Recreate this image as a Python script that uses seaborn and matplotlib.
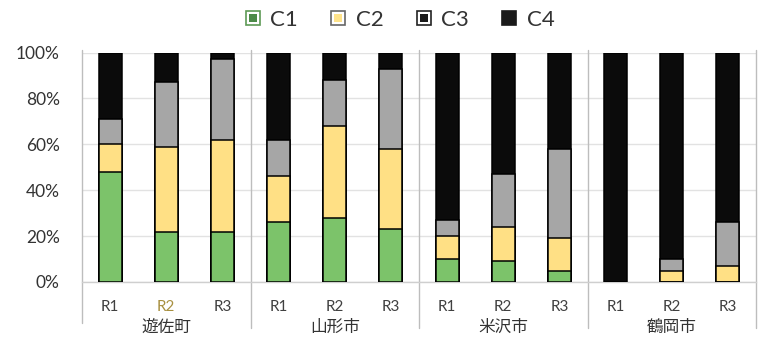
import matplotlib
matplotlib.use("Agg")
import matplotlib.pyplot as plt
from matplotlib.lines import Line2D
from matplotlib.legend_handler import HandlerTuple
import matplotlib.transforms as mtransforms
import numpy as np
import pandas as pd
import seaborn as sns

# ---- data (shares in %) ----
towns = ["遊佐町", "山形市", "米沢市", "鶴岡市"]
rounds = ["R1", "R2", "R3"]
c1 = [48, 22, 22,   26, 28, 23,   10, 9, 5,     0, 0, 0]
c2 = [12, 37, 40,   20, 40, 35,   10, 15, 14,   0, 5, 7]
c3 = [11, 28, 35,   16, 20, 35,   7, 23, 39,    0, 5, 19]
c4 = [29, 13, 3,    38, 12, 7,    73, 53, 42,   100, 90, 74]
series_names = ["C1", "C2", "C3", "C4"]
series_colors = ["#7CC36A", "#FFE085", "#A6A6A6", "#0B0B0B"]

keys = [f"{t}-{r}" for t in towns for r in rounds]
df = pd.DataFrame({"key": keys, "C1": c1, "C2": c2, "C3": c3, "C4": c4})
cols = series_names
for i, name in enumerate(cols):
    df["top_" + name] = df[cols[: i + 1]].sum(axis=1) / 100.0

sns.set_theme(style="white")
plt.rcParams["font.family"] = ["Lato", "Noto Sans CJK JP", "DejaVu Sans"]

fig = plt.figure(figsize=(7.59, 3.42), dpi=100)
ax = fig.add_axes([82 / 759, 60 / 342, (756 - 82) / 759, 229.5 / 342])

# stacked bars: draw cumulative tops from the highest layer down
for name, color in reversed(list(zip(series_names, series_colors))):
    sns.barplot(data=df, x="key", y="top_" + name, order=keys, color=color,
                saturation=1, width=0.41, edgecolor="black", linewidth=1.1,
                errorbar=None, ax=ax, zorder=3)

ax.set_xlim(-0.5, len(keys) - 0.5)
ax.set_ylim(0, 1.0)
ax.set_xlabel("")
ax.set_ylabel("")

ax.set_yticks(np.arange(0, 1.01, 0.2))
ax.set_yticklabels([f"{int(v * 100)}%" for v in np.arange(0, 1.01, 0.2)])
ax.tick_params(axis="y", length=0, pad=16, labelsize=12.5, labelcolor="#333333")
ax.tick_params(axis="x", length=0, pad=13, labelsize=11, labelcolor="#404040")
ax.set_xticks(range(len(keys)))
ax.set_xticklabels(rounds * len(towns))
ax.get_xticklabels()[1].set_color("#A89040")

ax.yaxis.grid(True, color="#E2E2E2", linewidth=1)
ax.set_axisbelow(True)
for s in ["top", "right", "left"]:
    ax.spines[s].set_visible(False)
ax.spines["bottom"].set_color("#CFCFCF")
ax.spines["bottom"].set_linewidth(1)

# group separators running down into the category area
trans = mtransforms.blended_transform_factory(ax.transData, ax.transAxes)
for i, xb in enumerate(np.arange(-0.5, len(keys), 3)):
    y0 = -0.18 if i == 0 else -0.2
    ax.add_line(Line2D([xb, xb], [y0, 1.01], transform=trans, color="#BDBDBD",
                       linewidth=1, clip_on=False, zorder=1))

# town names under each group
for g, town in enumerate(towns):
    ax.text(g * 3 + 1, -0.197, town, transform=trans, ha="center", va="center",
            fontsize=12, color="#333333", family=["Noto Sans CJK JP", "DejaVu Sans"])

# legend with framed square markers
def framed(edge, fill, gap=True):
    outer = Line2D([], [], linestyle="none", marker="s", markersize=9.8,
                   markerfacecolor="white" if gap else fill,
                   markeredgecolor=edge, markeredgewidth=1.2)
    inner = Line2D([], [], linestyle="none", marker="s", markersize=6.2,
                   markerfacecolor=fill, markeredgecolor=fill, markeredgewidth=0)
    return (outer, inner)

handles = [framed("#5E9A55", "#4C8A48"),
           framed("#666666", "#FFE38A"),
           framed("#222222", "#1A1A1A"),
           framed("#1A1A1A", "#1A1A1A", gap=False)]
fig.legend(handles, series_names, loc="center", bbox_to_anchor=(400 / 759, 1 - 20 / 342),
           ncol=4, frameon=False, fontsize=16, handlelength=0.65, handletextpad=0.45,
           columnspacing=1.5, labelcolor="#333333",
           handler_map={tuple: HandlerTuple(ndivide=1, pad=0)})

fig.savefig("out.png", dpi=100)
